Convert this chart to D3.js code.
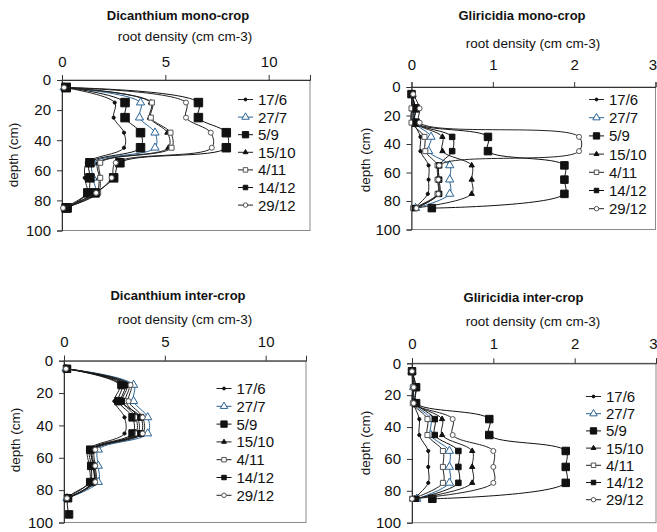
<!DOCTYPE html>
<html>
<head>
<meta charset="utf-8">
<script src="https://cdn.jsdelivr.net/npm/d3@7"></script>
<style>
  body { margin: 0; background: #fff; }
  text { font-family: Arial, "Liberation Sans", sans-serif; fill: #111; }
</style>
</head>
<body>
<svg id="chart" width="657" height="532"></svg>
<script>
// sampling depths (cm); the 95 cm sample only exists for one series
const depths = [5, 15, 25, 35, 45, 55, 65, 75, 85, 95];
const dates = ["17/6", "27/7", "5/9", "15/10", "4/11", "14/12", "29/12"];
const dicTicks = [0, 5, 10];
const gliTicks = [0, 1, 2, 3];
const depthTicks = [0, 20, 40, 60, 80, 100];

// root density per date, one row per date in the order of `dates`
const dicMono = [
  [0.1, 2.55, 2.5, 3.0, 3.0, 1.2, 1.1, 1.2, 0.05],
  [0.1, 3.8, 3.75, 4.5, 4.5, 1.5, 1.5, 1.6, 0.15],
  [0.2, 3.05, 3.05, 3.8, 3.8, 1.35, 1.35, 1.25, 0.25],
  [0.1, 4.3, 4.25, 5.1, 5.15, 1.75, 1.8, 1.65, 0.1],
  [0.1, 4.35, 4.3, 5.25, 5.3, 1.85, 1.85, 1.75, 0.1],
  [0.2, 6.6, 6.6, 7.95, 7.95, 2.8, 2.5, 1.6, 0.2],
  [0.1, 6.0, 6.0, 7.2, 7.25, 2.6, 2.4, 1.65, 0.05]
];
const gliMono = [
  [0.01, 0.03, 0.03, 0.11, 0.11, 0.21, 0.21, 0.2, 0.03],
  [0.01, 0.02, 0.04, 0.24, 0.21, 0.47, 0.47, 0.47, 0.05],
  [0.0, 0.05, 0.05, 0.94, 0.94, 1.88, 1.88, 1.88, 0.25],
  [0.01, 0.02, 0.04, 0.38, 0.38, 0.74, 0.74, 0.74, 0.04],
  [0.0, 0.0, 0.0, 0.16, 0.17, 0.32, 0.32, 0.32, 0.02],
  [0.0, 0.05, 0.05, 0.5, 0.5, 0.34, 0.34, 0.34, 0.04],
  [0.02, 0.1, 0.1, 2.06, 2.06, 0.34, 0.33, 0.33, 0.06]
];
const dicInter = [
  [0.1, 2.75, 2.5, 3.0, 3.0, 1.2, 1.25, 1.25, 0.1],
  [0.1, 3.45, 3.45, 4.15, 4.15, 1.7, 1.7, 1.7, 0.15],
  [0.15, 2.85, 2.7, 3.4, 3.4, 1.3, 1.35, 1.3, 0.2, 0.25],
  [0.1, 3.1, 2.9, 3.55, 3.55, 1.4, 1.45, 1.45, 0.15],
  [0.1, 3.2, 3.05, 3.65, 3.65, 1.45, 1.5, 1.5, 0.15],
  [0.15, 3.0, 2.85, 3.8, 3.8, 1.4, 1.45, 1.45, 0.2],
  [0.1, 3.3, 3.2, 3.9, 3.9, 1.55, 1.55, 1.55, 0.15]
];
const gliInter = [
  [0.0, 0.02, 0.02, 0.09, 0.09, 0.2, 0.2, 0.2, 0.02],
  [0.0, 0.02, 0.03, 0.23, 0.23, 0.46, 0.46, 0.46, 0.06],
  [0.0, 0.05, 0.05, 0.95, 0.95, 1.89, 1.89, 1.89, 0.25],
  [0.0, 0.02, 0.03, 0.37, 0.37, 0.74, 0.74, 0.74, 0.03],
  [0.0, 0.01, 0.01, 0.19, 0.19, 0.38, 0.38, 0.38, 0.0],
  [0.0, 0.05, 0.05, 0.28, 0.28, 0.57, 0.57, 0.57, 0.05],
  [0.0, 0.02, 0.02, 0.5, 0.5, 1.0, 1.0, 1.0, 0.0]
];

const blue = "#2a6496"
const grey = "#555"

// marker look per date: symbol, size (side px), fill, stroke
const markers = [
  { sym: d3.symbolCircle, s: 3.2, fill: "#111", stroke: "#111", color: "#222" },
  { sym: d3.symbolTriangle, s: 6.5, fill: "#fff", stroke: blue, color: blue },
  { sym: d3.symbolSquare, s: null, fill: "#111", stroke: "#111", color: "#111" },
  { sym: d3.symbolTriangle, s: 4.2, fill: "#111", stroke: "#111", color: "#222" },
  { sym: d3.symbolSquare, s: 5, fill: "#fff", stroke: grey, color: "#222" },
  { sym: d3.symbolSquare, s: null, fill: "#111", stroke: "#111", color: "#111" },
  { sym: d3.symbolCircle, s: 5, fill: "#fff", stroke: grey, color: "#222" }
]

const panels = [
  { title: "Dicanthium mono-crop", data: dicMono, ticks: dicTicks, xmax: 12,
    xr: [62, 310], yr: [80, 230.5], titleX: 178, titleY: 19.5, subX: 185, subY: 41, tickY: 62,
    labX: 18, labY: 155, legX: 238, legY: 99.5, legStep: 17.6, big: 8.5, mid: 8.5 },
  { title: "Gliricidia mono-crop", data: gliMono, ticks: gliTicks, xmax: 3,
    xr: [411.5, 655.5], yr: [87, 229.5], titleX: 522, titleY: 19.5, subX: 533, subY: 47.5, tickY: 65,
    labX: 370, labY: 160, legX: 589, legY: 99.5, legStep: 18.2, big: 7.5, mid: 5.5 },
  { title: "Dicanthium inter-crop", data: dicInter, ticks: dicTicks, xmax: 12,
    xr: [64, 306], yr: [360.7, 522.5], titleX: 178, titleY: 299.7, subX: 185, subY: 324, tickY: 341.7,
    labX: 19.5, labY: 440, legX: 216.5, legY: 388.5, legStep: 17.8, big: 7.5, mid: 6 },
  { title: "Gliricidia inter-crop", data: gliInter, ticks: gliTicks, xmax: 3,
    xr: [412, 656], yr: [363.3, 522.7], titleX: 523.5, titleY: 301.7, subX: 533, subY: 325.5, tickY: 343.3,
    labX: 370, labY: 443, legX: 586, legY: 396.5, legStep: 17.2, big: 7.5, mid: 5.5 }
]

const svg = d3.select("#chart")

function symbolPath(m, side) {
  let area
  if (m.sym === d3.symbolSquare) area = side * side
  else if (m.sym === d3.symbolCircle) area = Math.PI * (side / 2) * (side / 2)
  else area = side * side * Math.sqrt(3) / 4 * 1.6
  return d3.symbol().type(m.sym).size(area)()
}

panels.forEach(p => {
  const g = svg.append("g")
  const x = d3.scaleLinear().domain([0, p.xmax]).range(p.xr)
  const y = d3.scaleLinear().domain([0, 100]).range(p.yr)

  // frame
  g.append("rect")
    .attr("x", p.xr[0]).attr("y", p.yr[0])
    .attr("width", p.xr[1] - p.xr[0]).attr("height", p.yr[1] - p.yr[0])
    .attr("fill", "none").attr("stroke", "#8a8a8a").attr("stroke-width", 1)

  const xAxis = d3.axisTop(x).tickValues(p.ticks).tickFormat(d3.format("d")).tickSize(5)
  const gx = g.append("g").attr("transform", "translate(0," + p.yr[0] + ")").call(xAxis)
  const yAxis = d3.axisLeft(y).tickValues(depthTicks).tickFormat(d3.format("d")).tickSize(5).tickPadding(6)
  const gy = g.append("g").attr("transform", "translate(" + p.xr[0] + ",0)").call(yAxis)
  ;[gx, gy].forEach(a => {
    a.select(".domain").attr("stroke", "#333")
    a.selectAll(".tick line").attr("stroke", "#333")
    a.selectAll("text").attr("font-size", "15px").attr("fill", "#111")
      .style("font-family", "Arial, 'Liberation Sans', sans-serif")
  })
  gx.selectAll("text")
    .attr("y", p.tickY - p.yr[0]).attr("dy", "0.36em")
    // the last tick sits on the window edge, keep it inside
    .attr("text-anchor", d => x(d) > 650 ? "end" : "middle")
    .attr("dx", d => x(d) > 650 ? "1" : null)

  g.append("text").attr("x", p.titleX).attr("y", p.titleY)
    .attr("text-anchor", "middle").attr("font-weight", "bold").attr("font-size", "13px")
    .text(p.title)
  g.append("text").attr("x", p.subX).attr("y", p.subY)
    .attr("text-anchor", "middle").attr("font-size", "13.5px")
    .text("root density (cm cm-3)")
  g.append("text")
    .attr("transform", "translate(" + p.labX + "," + p.labY + ") rotate(-90)")
    .attr("text-anchor", "middle").attr("font-size", "13.5px")
    .text("depth (cm)")

  const line = d3.line().x(d => x(d[0])).y(d => y(d[1])).curve(d3.curveCatmullRom)

  p.data.forEach((vals, i) => {
    const m = markers[i]
    const pts = vals.map((v, k) => [v, depths[k]])
    const side = m.s !== null ? m.s : (i === 2 ? p.big : p.mid)
    g.append("path").datum(pts).attr("d", line)
      .attr("fill", "none").attr("stroke", m.color).attr("stroke-width", 1)
    g.selectAll(null).data(pts).enter().append("path")
      .attr("transform", d => "translate(" + x(d[0]) + "," + y(d[1]) + ")")
      .attr("d", symbolPath(m, side))
      .attr("fill", m.fill).attr("stroke", m.stroke).attr("stroke-width", 1)
  })

  // legend
  dates.forEach((name, i) => {
    const m = markers[i]
    const ly = p.legY + i * p.legStep
    const lg = g.append("g")
    lg.append("line").attr("x1", p.legX).attr("x2", p.legX + 15).attr("y1", ly).attr("y2", ly)
      .attr("stroke", m.color).attr("stroke-width", 1)
    const side = m.s !== null ? m.s : (i === 2 ? 7 : 5)
    lg.append("path").attr("transform", "translate(" + (p.legX + 7.5) + "," + ly + ")")
      .attr("d", symbolPath(m, side * 0.9))
      .attr("fill", m.fill).attr("stroke", m.stroke).attr("stroke-width", 1)
    lg.append("text").attr("x", p.legX + 20).attr("y", ly).attr("dy", "0.36em")
      .attr("font-size", "15px").attr("fill", i === 1 ? blue : "#111")
      .text(name)
  })
})
</script>
</body>
</html>
